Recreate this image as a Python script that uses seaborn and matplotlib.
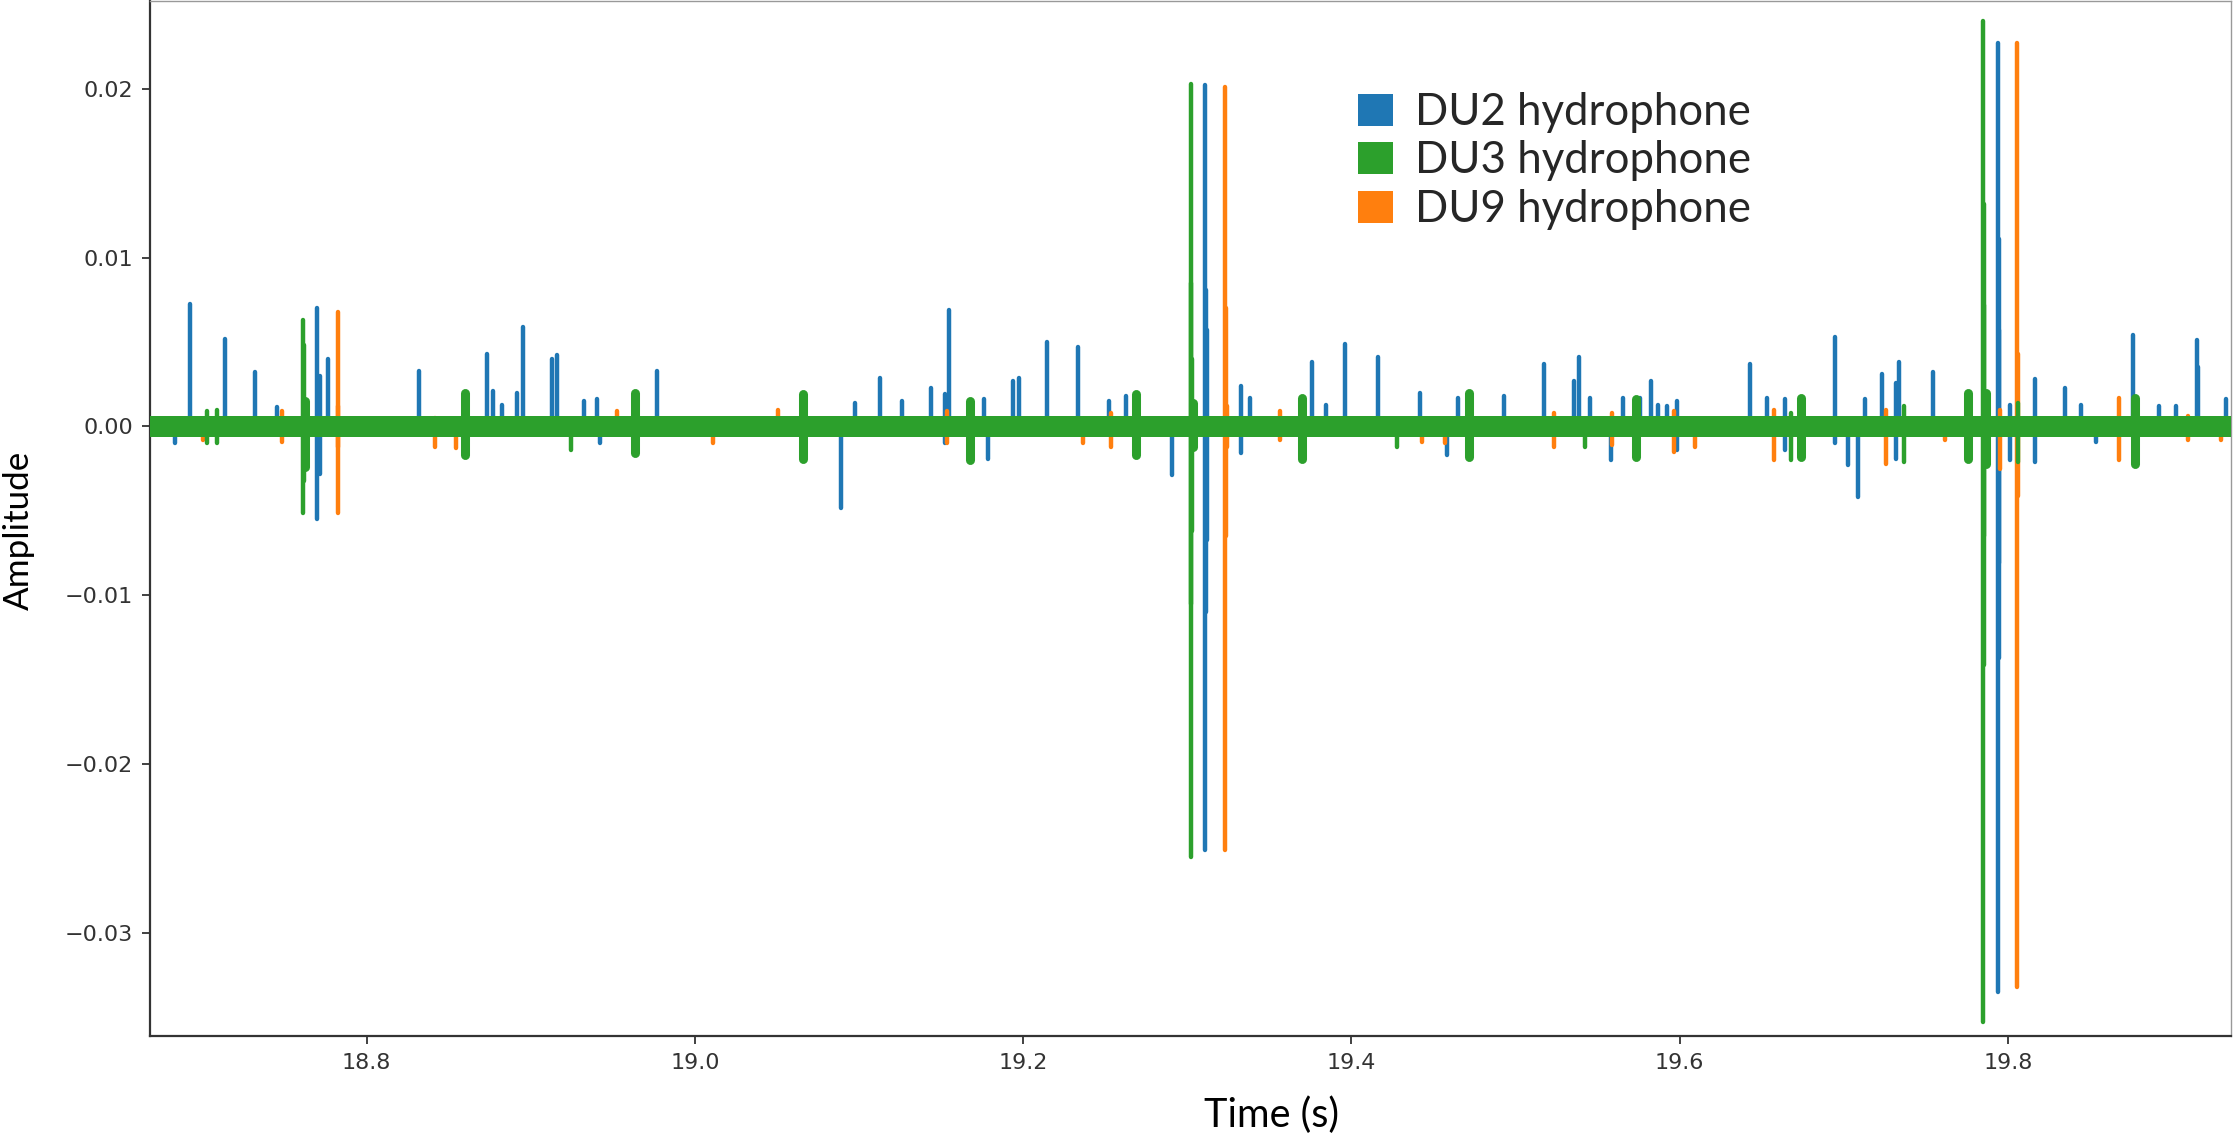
import pandas as pd
import matplotlib
matplotlib.use('Agg')
import matplotlib.pyplot as plt
from matplotlib.patches import Patch
import seaborn as sns

# recording window shown (s)
t_start, t_end = 18.668, 19.936
amp_ticks = [-0.03, -0.02, -0.01, 0.00, 0.01, 0.02]
time_ticks = [18.8, 19.0, 19.2, 19.4, 19.6, 19.8]

# noise floor half-width of each hydrophone
du2_noise = 0.00055
du3_noise = 0.00064
du9_noise = 0.00058

# DU2 spikes: time, positive peak, negative peak
du2_t = [18.6832, 18.6925, 18.7137, 18.7321, 18.7454, 18.7699, 18.7713, 18.7765, 18.8317, 18.8732,
         18.8772, 18.8825, 18.8914, 18.8953, 18.9128, 18.9159, 18.9327, 18.9401, 18.9420, 18.9769,
         19.0889, 19.0973, 19.1127, 19.1260, 19.1441, 19.1523, 19.1547, 19.1763, 19.1785, 19.1938,
         19.1978, 19.2148, 19.2334, 19.2521, 19.2630, 19.2910, 19.3109, 19.3113, 19.3118, 19.3330,
         19.3384, 19.3763, 19.3845, 19.3959, 19.4164, 19.4420, 19.4580, 19.4649, 19.4929, 19.5172,
         19.5355, 19.5388, 19.5453, 19.5580, 19.5657, 19.5761, 19.5825, 19.5866, 19.5925, 19.5987,
         19.6430, 19.6530, 19.6643, 19.6945, 19.7025, 19.7090, 19.7132, 19.7235, 19.7321, 19.7340,
         19.7545, 19.7940, 19.7944, 19.7948, 19.8016, 19.8164, 19.8347, 19.8445, 19.8540, 19.8763,
         19.8921, 19.9027, 19.9153, 19.9160, 19.9332]
du2_hi = [0.0, 0.00726, 0.0052, 0.0032, 0.00114, 0.0070, 0.0030, 0.0040, 0.00327, 0.0043,
          0.0021, 0.0013, 0.0020, 0.0059, 0.0040, 0.00424, 0.0015, 0.0016, 0.0, 0.0033,
          0.0, 0.0014, 0.0029, 0.0015, 0.0023, 0.0019, 0.0069, 0.0016, 0.0, 0.0027,
          0.0029, 0.0050, 0.0047, 0.0015, 0.0018, 0.0, 0.0202, 0.0081, 0.0057, 0.0024,
          0.0017, 0.0038, 0.0013, 0.0049, 0.0041, 0.0020, 0.0, 0.0017, 0.0018, 0.0037,
          0.0027, 0.0041, 0.0017, 0.0, 0.0017, 0.0017, 0.0027, 0.0013, 0.0012, 0.0015,
          0.0037, 0.0017, 0.0016, 0.0053, 0.0, 0.0, 0.0016, 0.0031, 0.0026, 0.0038,
          0.0032, 0.0227, 0.0111, 0.0057, 0.0013, 0.0028, 0.0023, 0.0013, 0.0, 0.0054,
          0.0012, 0.0012, 0.0051, 0.0035, 0.0016]
du2_lo = [-0.0010, 0.0, 0.0, 0.0, 0.0, -0.0055, -0.0028, 0.0, 0.0, 0.0,
          0.0, 0.0, 0.0, 0.0, 0.0, 0.0, 0.0, 0.0, -0.0010, 0.0,
          -0.0048, 0.0, 0.0, 0.0, 0.0, -0.0010, 0.0, 0.0, -0.0019, 0.0,
          0.0, 0.0, 0.0, 0.0, 0.0, -0.0029, -0.0251, -0.0110, -0.0067, -0.0016,
          0.0, 0.0, 0.0, 0.0, 0.0, 0.0, -0.0017, 0.0, 0.0, 0.0,
          0.0, 0.0, 0.0, -0.0020, 0.0, 0.0, 0.0, 0.0, 0.0, -0.0014,
          0.0, 0.0, -0.0014, -0.0010, -0.0023, -0.0042, 0.0, 0.0, -0.0019, 0.0,
          0.0, -0.0335, -0.0137, -0.0081, -0.0020, -0.0021, 0.0, 0.0, -0.0009, 0.0,
          0.0, 0.0, 0.0, 0.0, 0.0]

# DU3 spikes
du3_t = [18.7025, 18.7089, 18.7613, 18.7619, 18.9245, 19.3020, 19.3024, 19.3028, 19.4281, 19.5422,
         19.6682, 19.7365, 19.7849, 19.7853, 19.7857, 19.8060]
du3_hi = [0.0009, 0.0010, 0.0063, 0.0048, 0.0, 0.0203, 0.0085, 0.0040, 0.0, 0.0,
          0.0008, 0.0012, 0.0240, 0.0132, 0.0072, 0.0014]
du3_lo = [-0.0010, -0.0010, -0.0051, -0.0032, -0.0014, -0.0255, -0.0105, -0.0062, -0.0012, -0.0012,
          -0.0020, -0.0021, -0.0353, -0.0141, -0.0065, -0.0021]

# DU3 short bursts
du3_burst_t = [18.7625, 18.8600, 18.9638, 19.0660, 19.1675, 19.2690, 19.3035, 19.3700, 19.4718,
               19.5733, 19.6740, 19.7758, 19.7865, 19.8773]
du3_burst_hi = [0.0015, 0.0020, 0.0020, 0.0019, 0.0015, 0.0019, 0.0014, 0.0017, 0.0020,
                0.0016, 0.0017, 0.0020, 0.0020, 0.0017]
du3_burst_lo = [-0.0024, -0.0017, -0.0016, -0.0019, -0.0020, -0.0017, -0.0012, -0.0019, -0.0018,
                -0.0018, -0.0018, -0.0019, -0.0022, -0.0022]

# DU9 spikes
du9_t = [18.7000, 18.7485, 18.7823, 18.7828, 18.8417, 18.8546, 18.9525, 19.0108, 19.0509, 19.1535,
         19.2363, 19.2537, 19.3232, 19.3236, 19.3240, 19.3563, 19.4432, 19.4568, 19.5237, 19.5587,
         19.5966, 19.6092, 19.6578, 19.7258, 19.7620, 19.7950, 19.8056, 19.8060, 19.8680, 19.9100,
         19.9300]
du9_hi = [0.0, 0.0009, 0.0068, 0.0012, 0.0005, 0.0, 0.0009, 0.0, 0.0010, 0.0009,
          0.0, 0.0008, 0.0201, 0.0070, 0.0012, 0.0009, 0.0, 0.0, 0.0008, 0.0008,
          0.0009, 0.0, 0.0010, 0.0010, 0.0, 0.0010, 0.0227, 0.0043, 0.0017, 0.0006,
          0.0]
du9_lo = [-0.0008, -0.0009, -0.0051, -0.0012, -0.0012, -0.0013, 0.0, -0.0010, 0.0, -0.0010,
          -0.0010, -0.0012, -0.0251, -0.0065, -0.0012, -0.0008, -0.0009, -0.0010, -0.0012, -0.0011,
          -0.0015, -0.0012, -0.0020, -0.0022, -0.0008, -0.0025, -0.0332, -0.0041, -0.0020, -0.0008,
          -0.0008]

labels = ['DU2 hydrophone', 'DU3 hydrophone', 'DU9 hydrophone']
colors = ['#1f77b4', '#2ca02c', '#ff7f0e']


def spike_frame(t, hi, lo):
    # each spike is one vertical segment from its trough to its peak
    rows = []
    for i, (ti, h, l) in enumerate(zip(t, hi, lo)):
        rows.append((i, ti, l))
        rows.append((i, ti, h))
    return pd.DataFrame(rows, columns=['event', 'time', 'amplitude'])


sns.set_theme(style='ticks')
plt.rcParams['font.family'] = ['DejaVu Sans']

fig = plt.figure(figsize=(22.34, 11.34), dpi=100)
ax = fig.add_axes([150 / 2234, 1 - 1036 / 1134, 2081 / 2234, 1035 / 1134])

# drawn DU2, DU9, DU3 so that DU3 ends up on top
layers = [
    (du2_noise, spike_frame(du2_t, du2_hi, du2_lo), None, colors[0], 1),
    (du9_noise, spike_frame(du9_t, du9_hi, du9_lo), None, colors[2], 4),
    (du3_noise, spike_frame(du3_t, du3_hi, du3_lo),
     spike_frame(du3_burst_t, du3_burst_hi, du3_burst_lo), colors[1], 7),
]
for noise, spikes, bursts, c, z in layers:
    ax.fill_between([t_start, t_end], -noise, noise, color=c, linewidth=0, zorder=z)
    if bursts is not None:
        sns.lineplot(data=bursts, x='time', y='amplitude', units='event', estimator=None,
                     sort=False, color=c, linewidth=6.5, solid_capstyle='round', legend=False,
                     zorder=z + 1, ax=ax)
    sns.lineplot(data=spikes, x='time', y='amplitude', units='event', estimator=None,
                 sort=False, color=c, linewidth=3.2, solid_capstyle='round', legend=False,
                 zorder=z + 2, ax=ax)

ax.set_xlim(t_start, t_end)
ax.set_ylim(-0.0361, 0.0252)
ax.set_xticks(time_ticks)
ax.set_yticks(amp_ticks)
ax.set_xlabel('')
ax.set_ylabel('')
ax.tick_params(labelsize=16, colors='#333333', length=6, width=1.3, pad=6)
for side in ['left', 'bottom']:
    ax.spines[side].set_color('#333333')
    ax.spines[side].set_linewidth(1.6)
for side in ['top', 'right']:
    ax.spines[side].set_color('#999999')
    ax.spines[side].set_linewidth(1.0)

fig.text(19 / 2234, 1 - 530 / 1134, 'Amplitude', rotation=90, ha='center', va='center',
         family=['Lato', 'DejaVu Sans'], size=25.2, color='black')
fig.text(1272 / 2234, 1 - 1115 / 1134, 'Time (s)', ha='center', va='center',
         family=['Lato', 'DejaVu Sans'], size=28.5, color='black')

handles = [Patch(facecolor=c, edgecolor='none') for c in colors]
ax.legend(handles, labels, loc='upper left', bbox_to_anchor=(1358 / 2234, 1 - 92 / 1134),
          bbox_transform=fig.transFigure, frameon=False, borderpad=0, borderaxespad=0,
          handlelength=0.8, handleheight=0.75, handletextpad=0.5, labelspacing=0.17,
          prop={'family': ['Lato', 'DejaVu Sans'], 'size': 31.5})

fig.savefig('out.png', dpi=100)
